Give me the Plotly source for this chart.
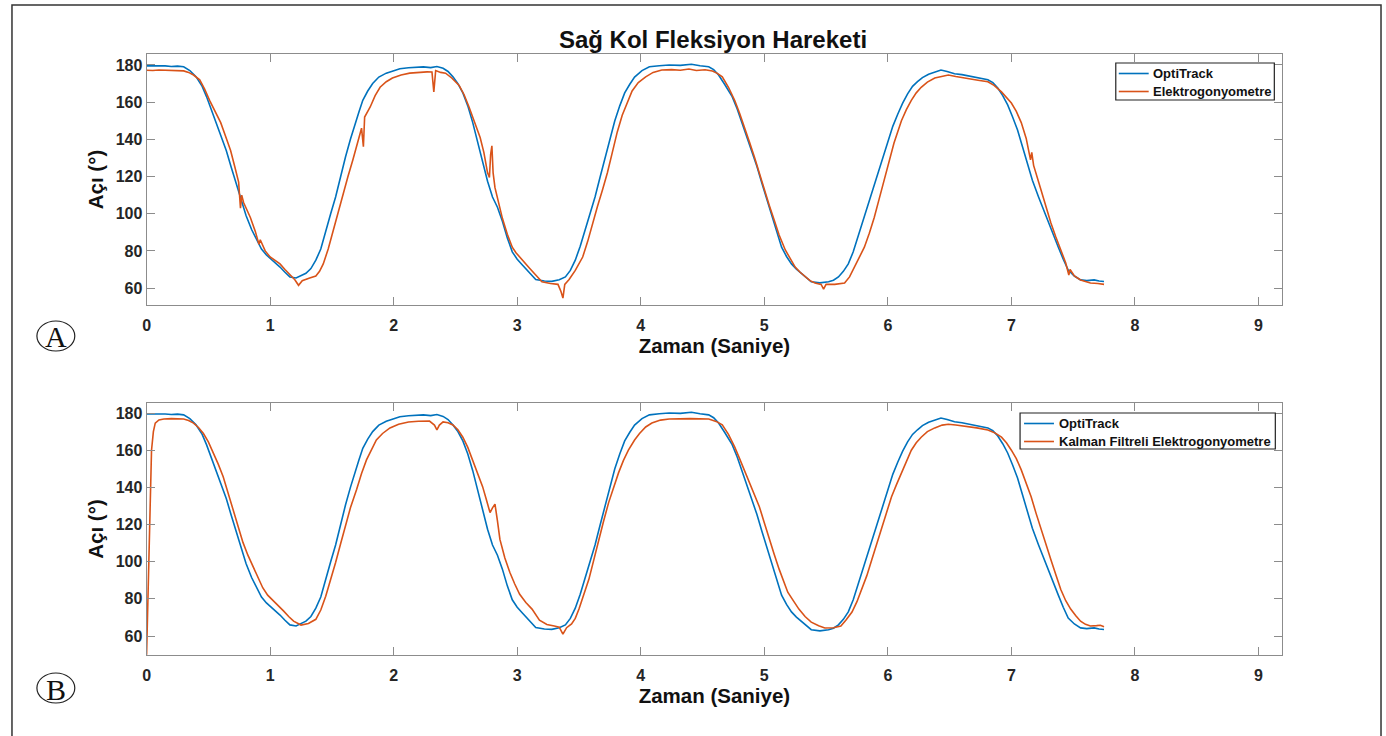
import plotly.graph_objects as go

# ---------------- data ----------------
t_opti = [0, 0.05, 0.1, 0.15, 0.2, 0.25, 0.3, 0.35, 0.40, 0.45, 0.485, 0.525, 0.565, 0.605, 0.645, 0.685,
          0.725, 0.765, 0.805, 0.85, 0.89, 0.93, 0.97, 1.02, 1.08, 1.12, 1.16, 1.21, 1.25, 1.29, 1.33, 1.37,
          1.41, 1.45, 1.49, 1.53, 1.57, 1.61, 1.65, 1.69, 1.72, 1.75, 1.79, 1.83, 1.88, 1.94, 2.0, 2.05,
          2.12, 2.18, 2.24, 2.30, 2.35, 2.40, 2.44, 2.48, 2.52, 2.56, 2.60, 2.64, 2.68, 2.72, 2.76, 2.80,
          2.84, 2.88, 2.92, 2.96, 3.00, 3.04, 3.10, 3.15, 3.22, 3.28, 3.34, 3.39, 3.43, 3.47, 3.51, 3.55,
          3.59, 3.63, 3.67, 3.71, 3.75, 3.79, 3.83, 3.87, 3.91, 3.95, 4.01, 4.07, 4.15, 4.23, 4.32, 4.41,
          4.48, 4.55, 4.59, 4.63, 4.68, 4.74, 4.78, 4.82, 4.86, 4.90, 4.94, 4.98, 5.02, 5.06, 5.10, 5.14,
          5.18, 5.22, 5.26, 5.30, 5.34, 5.38, 5.45, 5.52, 5.56, 5.60, 5.64, 5.68, 5.72, 5.76, 5.80, 5.84,
          5.88, 5.92, 5.96, 6.00, 6.04, 6.08, 6.12, 6.16, 6.20, 6.24, 6.28, 6.33, 6.38, 6.43, 6.48, 6.54,
          6.60, 6.67, 6.74, 6.81, 6.85, 6.89, 6.93, 6.97, 7.01, 7.05, 7.09, 7.13, 7.17, 7.22, 7.26, 7.30,
          7.34, 7.38, 7.42, 7.46, 7.51, 7.56, 7.61, 7.67, 7.71, 7.75]
opti = [179.5, 179.6, 179.3, 179.5, 179.2, 179.4, 179.0, 177.0, 173.7, 168.5, 163, 156, 148.8, 141.5, 134, 125,
        116, 107, 99, 91.5, 85.8, 81, 77.8, 75, 71.3, 68.5, 66, 65.4, 66.5, 68, 70.5, 75,
        81, 91, 100, 109, 120, 130.5, 140, 149, 155, 161, 166, 170, 173.5, 175.6, 177, 178,
        178.5, 178.8, 179.0, 178.6, 179.2, 178.2, 176.5, 173.6, 170, 165, 158, 149, 138, 127, 117.5, 109,
        103.5, 96, 87, 79.5, 75.5, 72.5, 68, 64.6, 63.8, 63.6, 64.5, 66, 69.5, 75, 82.5, 91,
        100, 109, 119.5, 130, 140, 150, 158, 165, 169.5, 173.5, 177, 179, 179.6, 180, 179.8, 180.4,
        179.6, 179, 177.5, 174.6, 169.5, 163, 156.5, 149, 141.5, 134, 125.5, 116.5, 108, 100, 91, 82,
        77, 73, 70.2, 68, 65.5, 63.4, 62.8, 63.4, 64.2, 66, 69, 73, 79.5, 88, 96.5, 105,
        114, 122.5, 131, 139.5, 147, 153.5, 159.5, 164.5, 168.5, 171, 173.2, 175, 176.3, 177.3, 176.5, 175.3,
        174.8, 174, 173.2, 172, 170.5, 167.6, 163.5, 158.5, 152, 145, 136, 127, 118, 109, 102, 95,
        88, 82, 75.5, 69.7, 66.5, 64.4, 64.0, 64.4, 63.8, 63.5]

t_elek = [0, 0.05, 0.1, 0.15, 0.2, 0.25, 0.3, 0.34, 0.38, 0.43, 0.47, 0.51, 0.55, 0.60, 0.64, 0.68,
          0.715, 0.745, 0.76, 0.77, 0.785, 0.81, 0.84, 0.88, 0.90, 0.91, 0.92, 0.96, 1.0, 1.04, 1.08, 1.12,
          1.16, 1.20, 1.23, 1.26, 1.32, 1.37, 1.40, 1.43, 1.47, 1.51, 1.55, 1.59, 1.63, 1.67, 1.71, 1.74,
          1.755, 1.765, 1.81, 1.85, 1.89, 1.94, 1.99, 2.06, 2.13, 2.20, 2.27, 2.31, 2.325, 2.34, 2.38, 2.42,
          2.47, 2.53, 2.57, 2.61, 2.65, 2.70, 2.73, 2.76, 2.775, 2.785, 2.795, 2.805, 2.82, 2.85, 2.88, 2.92,
          2.96, 2.99, 3.04, 3.10, 3.15, 3.20, 3.27, 3.33, 3.355, 3.37, 3.385, 3.42, 3.47, 3.53, 3.57, 3.61,
          3.65, 3.69, 3.73, 3.77, 3.81, 3.85, 3.89, 3.93, 3.98, 4.04, 4.10, 4.17, 4.25, 4.32, 4.39, 4.45,
          4.52, 4.58, 4.62, 4.66, 4.71, 4.76, 4.80, 4.84, 4.88, 4.92, 4.96, 5.00, 5.04, 5.08, 5.12, 5.17,
          5.21, 5.25, 5.29, 5.33, 5.37, 5.41, 5.46, 5.48, 5.50, 5.57, 5.65, 5.69, 5.73, 5.77, 5.81, 5.85,
          5.89, 5.93, 5.97, 6.01, 6.05, 6.11, 6.15, 6.19, 6.23, 6.27, 6.32, 6.38, 6.44, 6.49, 6.55, 6.65,
          6.73, 6.81, 6.86, 6.92, 6.96, 7.00, 7.04, 7.08, 7.12, 7.155, 7.165, 7.18, 7.24, 7.28, 7.32, 7.36,
          7.40, 7.44, 7.465, 7.475, 7.51, 7.56, 7.60, 7.64, 7.70, 7.75]
elek = [177.2, 177.0, 177.3, 177.1, 177.3, 177.0, 176.8, 176, 174.6, 172, 167, 161, 155.5, 149, 141.5, 134,
        125, 117, 103, 110, 106, 102, 98, 90.5, 86, 83.5, 86, 80, 76.7, 74.8, 73, 70,
        67, 64.5, 61.5, 64, 65.4, 66.5, 69, 73, 81, 91, 101, 111, 120, 129, 138, 146,
        136, 152, 157.4, 163.5, 168, 171, 173, 174.6, 175.6, 176, 176.3, 176.2, 165.5, 177, 176, 175.6,
        173, 169, 164, 157.4, 150, 141, 133, 122, 119.5, 132, 136.5, 122, 114, 105, 97.5, 89,
        82, 79, 75, 70.7, 67, 63.4, 62.5, 62, 58, 54.6, 62, 64.6, 69.5, 76.7, 85, 95,
        104, 112.7, 122, 133, 144, 153, 160, 166, 170.5, 173.6, 176, 177.3, 177.5, 177.2, 177.8, 177.0,
        177.4, 176.8, 175.5, 173.6, 168, 161, 154, 146.6, 138.5, 130.5, 121.5, 112.7, 104.5, 96.6, 88.5, 80.5,
        75.5, 71.3, 68.5, 66, 64, 62.7, 62, 59.5, 62, 62, 62.7, 66, 71.3, 76, 82, 89.5,
        98, 108, 118, 128, 138, 150, 156, 161, 165, 168, 170.8, 173, 174, 174.6, 173.8, 172.5,
        171.8, 171, 169, 165.5, 162.5, 159.5, 155, 149, 140.5, 129, 133, 126, 112.7, 103.5, 95, 87.5,
        80.5, 73.5, 67, 70, 66.5, 64.4, 63.5, 62.7, 62.5, 62]

t_kalman = [0, 0.01, 0.02, 0.03, 0.04, 0.055, 0.07, 0.10, 0.14, 0.2, 0.3, 0.34, 0.38, 0.42, 0.46, 0.50,
            0.54, 0.58, 0.62, 0.66, 0.70, 0.74, 0.78, 0.82, 0.86, 0.90, 0.94, 0.98, 1.03, 1.07, 1.11, 1.15,
            1.19, 1.25, 1.31, 1.37, 1.41, 1.45, 1.49, 1.53, 1.57, 1.61, 1.65, 1.70, 1.74, 1.78, 1.82, 1.86,
            1.91, 1.97, 2.04, 2.12, 2.20, 2.29, 2.33, 2.35, 2.37, 2.40, 2.44, 2.48, 2.52, 2.56, 2.60, 2.64,
            2.68, 2.72, 2.75, 2.78, 2.80, 2.82, 2.84, 2.86, 2.90, 2.94, 2.98, 3.02, 3.07, 3.12, 3.18, 3.24,
            3.30, 3.34, 3.37, 3.40, 3.44, 3.47, 3.50, 3.54, 3.58, 3.62, 3.66, 3.70, 3.74, 3.78, 3.82, 3.86,
            3.90, 3.95, 3.99, 4.04, 4.09, 4.16, 4.23, 4.40, 4.55, 4.61, 4.66, 4.71, 4.76, 4.80, 4.84, 4.87,
            4.91, 4.96, 5.00, 5.04, 5.08, 5.12, 5.16, 5.19, 5.24, 5.28, 5.33, 5.38, 5.44, 5.49, 5.56, 5.62,
            5.66, 5.71, 5.75, 5.79, 5.83, 5.87, 5.91, 5.95, 5.99, 6.03, 6.07, 6.11, 6.15, 6.19, 6.23, 6.27,
            6.32, 6.38, 6.44, 6.49, 6.55, 6.62, 6.72, 6.81, 6.87, 6.92, 6.96, 7.00, 7.04, 7.08, 7.12, 7.16,
            7.20, 7.24, 7.28, 7.32, 7.36, 7.40, 7.44, 7.48, 7.52, 7.56, 7.60, 7.64, 7.69, 7.72, 7.75]
kalman = [50, 80, 115, 140, 160, 170, 174.6, 176.3, 176.8, 177, 176.8, 176, 174.6, 172.2, 169, 164.5,
          158.6, 152.5, 145.7, 137, 128, 119, 110.4, 103.5, 97.5, 91.5, 86, 82, 78.8, 76, 73.4, 70.5,
          68, 65.9, 66.8, 69, 74, 81.4, 90, 99.6, 109.5, 119, 129, 138.8, 147.5, 154.8, 160.5, 165.5,
          169, 172, 174, 175.2, 175.6, 175.7, 173.5, 170.9, 173.5, 175.2, 174.8, 173.6, 171, 167, 161.5, 154.8,
          148, 140.4, 133.5, 126.4, 129, 131, 122, 112, 102, 94.3, 88, 82.5, 78, 74.5, 68.5, 66.2,
          65.4, 64.8, 61, 64.5, 66.5, 69.5, 74.5, 82, 90.5, 101, 112, 122, 131.8, 140, 147.8, 154.5,
          160, 165.5, 169, 172.5, 174.6, 176.2, 176.8, 177, 176.8, 175.5, 173.6, 168.5, 161.8, 155.5, 149, 144,
          137, 129.6, 121, 112, 104, 96, 89.5, 83.6, 78.5, 74.5, 70.5, 67.5, 65.5, 64.3, 64.5, 65.4,
          68.5, 72.9, 78.5, 85, 92.5, 101, 110, 118, 126.5, 135, 141.5, 147.8, 154.5, 160, 164, 167,
          170, 172, 173.5, 174, 173.6, 173, 172, 170.9, 169.2, 167, 164, 160, 155.5, 149.4, 142.5, 135,
          126, 117.3, 109, 101, 93, 85, 79, 74.5, 71, 68, 66.3, 65.4, 65.6, 65.8, 65]

x_ticks = [0, 1, 2, 3, 4, 5, 6, 7, 8, 9]
y_ticks = [60, 80, 100, 120, 140, 160, 180]

title_text = "Sağ Kol Fleksiyon Hareketi"
x_title = "Zaman (Saniye)"
y_title = "Açı (°)"
name_opti = "OptiTrack"
name_elek = "Elektrogonyometre"
name_kalman = "Kalman Filtreli Elektrogonyometre"

# ---------------- layout helpers ----------------
W, H = 1386, 736
def fx(p):
    return p / W
def fy(p):
    return 1 - p / H

BLUE = "#0072BD"
ORANGE = "#D95319"
AXC = "#8c8c8c"
TXT = "#262626"
FONT = "Liberation Sans"

fig = go.Figure()
fig.add_trace(go.Scatter(x=t_opti, y=opti, mode="lines", name=name_opti,
                         line=dict(color=BLUE, width=1.6), xaxis="x", yaxis="y"))
fig.add_trace(go.Scatter(x=t_elek, y=elek, mode="lines", name=name_elek,
                         line=dict(color=ORANGE, width=1.6), xaxis="x", yaxis="y"))
fig.add_trace(go.Scatter(x=t_opti, y=opti, mode="lines", name=name_opti,
                         line=dict(color=BLUE, width=1.6), xaxis="x2", yaxis="y2"))
fig.add_trace(go.Scatter(x=t_kalman, y=kalman, mode="lines", name=name_kalman,
                         line=dict(color=ORANGE, width=1.6), xaxis="x2", yaxis="y2"))

tickfont = dict(family=FONT, size=16, color=TXT, weight="bold")
titlefont = dict(family=FONT, size=20.5, color="#111111", weight="bold")

def xax(anchor):
    return dict(domain=[fx(143), fx(1282)], range=[0, 9.193], anchor=anchor,
                tickvals=x_ticks, ticks="inside", ticklen=8, tickcolor=AXC, tickwidth=1,
                showline=True, linecolor=AXC, linewidth=1, mirror="ticks",
                showgrid=False, zeroline=False, tickfont=tickfont, ticklabelstandoff=6,
                title=dict(text=x_title, font=titlefont, standoff=4))

def yax(anchor, dom, rng):
    return dict(domain=dom, range=rng, anchor=anchor,
                tickvals=y_ticks, ticks="inside", ticklen=8, tickcolor=AXC, tickwidth=1,
                showline=True, linecolor=AXC, linewidth=1, mirror="ticks",
                showgrid=False, zeroline=False, tickfont=tickfont,
                title=dict(text=y_title, font=titlefont, standoff=6))

legfont = dict(family=FONT, size=13, color="#111111", weight="bold")

# hand-drawn legend boxes (pixel geometry of the reference)
legends = [
    # box x0, x1, y0, y1, line x0, x1, text x, rows [(y, color, label)]
    (1115, 1274, 63, 100, 1118, 1148, 1150, [(73.5, BLUE, name_opti), (91.5, ORANGE, name_elek)]),
    (1019, 1275, 413, 449, 1023, 1053, 1056, [(423.5, BLUE, name_opti), (441.5, ORANGE, name_kalman)]),
]

shapes = [
    dict(type="rect", xref="paper", yref="paper", x0=fx(8), x1=fx(1381), y0=-0.02, y1=fy(5),
         line=dict(color="#333333", width=1.5)),
    dict(type="circle", xref="paper", yref="paper", x0=fx(33), x1=fx(71), y0=fy(351), y1=fy(321),
         line=dict(color="#222222", width=1.2)),
    dict(type="circle", xref="paper", yref="paper", x0=fx(33), x1=fx(71), y0=fy(703), y1=fy(673),
         line=dict(color="#222222", width=1.2)),
]
annotations = [
    dict(text="A", xref="paper", yref="paper", x=fx(52.5), y=fy(337), xanchor="center", yanchor="middle",
         showarrow=False, font=dict(family="Liberation Serif", size=30, color="#111111")),
    dict(text="B", xref="paper", yref="paper", x=fx(52.5), y=fy(689), xanchor="center", yanchor="middle",
         showarrow=False, font=dict(family="Liberation Serif", size=30, color="#111111")),
]
for bx0, bx1, by0, by1, lx0, lx1, tx, rows in legends:
    shapes.append(dict(type="rect", xref="paper", yref="paper", x0=fx(bx0), x1=fx(bx1),
                       y0=fy(by1), y1=fy(by0), fillcolor="white",
                       line=dict(color="#222222", width=1.2), layer="above"))
    for ry, col, lab in rows:
        shapes.append(dict(type="line", xref="paper", yref="paper", x0=fx(lx0), x1=fx(lx1),
                           y0=fy(ry), y1=fy(ry), line=dict(color=col, width=1.6), layer="above"))
        annotations.append(dict(text=lab, xref="paper", yref="paper", x=fx(tx), y=fy(ry),
                                xanchor="left", yanchor="middle", showarrow=False, font=legfont))

fig.update_layout(
    width=W, height=H,
    margin=dict(l=0, r=0, t=0, b=0),
    paper_bgcolor="white", plot_bgcolor="white",
    showlegend=False,
    xaxis=xax("y"),
    yaxis=yax("x", [fy(305), fy(54)], [50.9, 185.9]),
    xaxis2=xax("y2"),
    yaxis2=yax("x2", [fy(655), fy(403)], [49.8, 185.4]),
    title=dict(text=title_text, x=fx(713), xanchor="center", y=fy(40), yanchor="middle",
               font=dict(family=FONT, size=24, color="#111111", weight="bold")),
    shapes=shapes,
    annotations=annotations,
)

fig.write_html("out.html", config={"displayModeBar": False},
               post_script="document.body.style.margin='0';document.documentElement.style.overflow='hidden';")
